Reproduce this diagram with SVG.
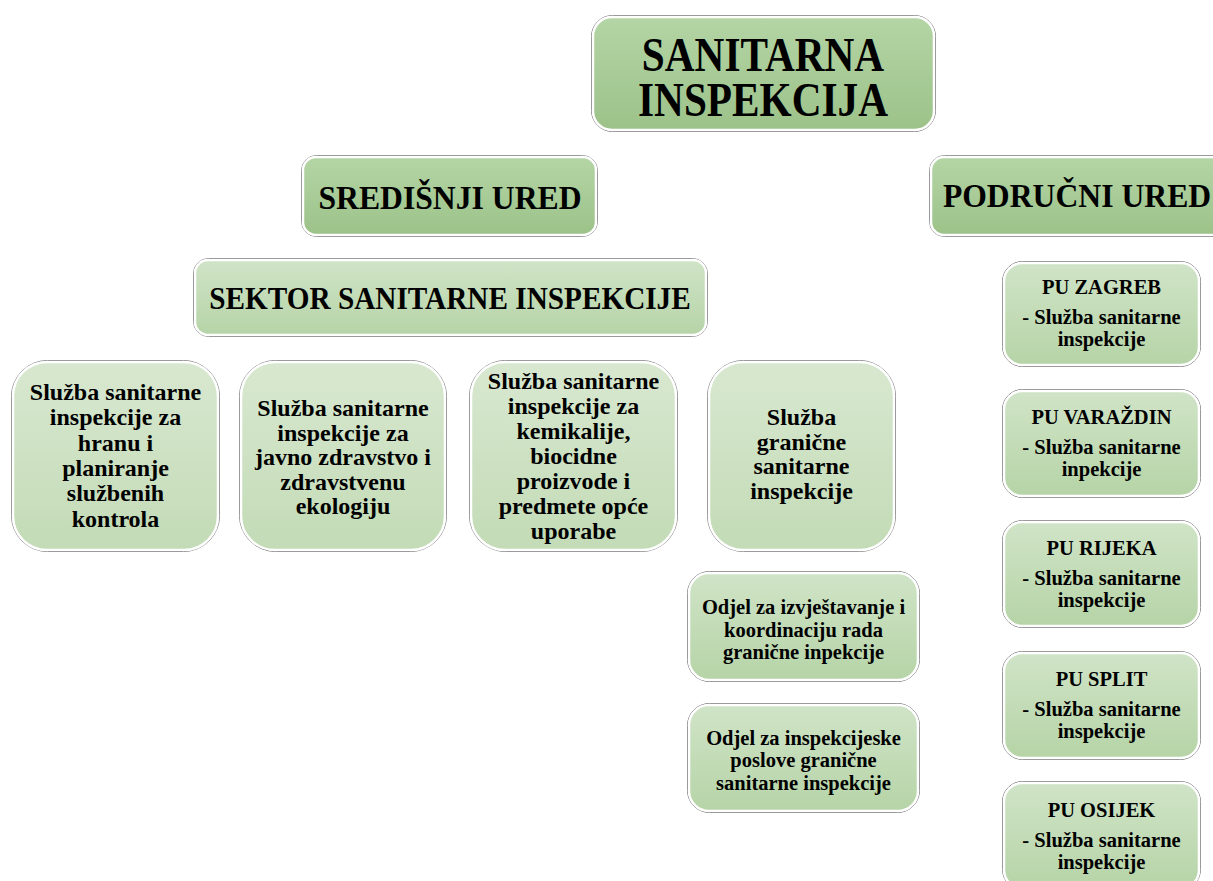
<svg xmlns="http://www.w3.org/2000/svg" width="1213" height="881" viewBox="0 0 1213 881">
<defs>
<linearGradient id="gDark" x1="0" y1="0" x2="0" y2="1">
<stop offset="0" stop-color="#b4d5a5"/><stop offset="1" stop-color="#9cc289"/>
</linearGradient>
<linearGradient id="gMid" x1="0" y1="0" x2="0" y2="1">
<stop offset="0" stop-color="#d0e4c7"/><stop offset="1" stop-color="#b6d4a7"/>
</linearGradient>
<linearGradient id="gLight" x1="0" y1="0" x2="0" y2="1">
<stop offset="0" stop-color="#d8e8d0"/><stop offset="1" stop-color="#c3dbb6"/>
</linearGradient>
</defs>
<style>
.in{stroke:#ffffff;stroke-width:2.5}
.out{fill:none;stroke:#7a7a7a;stroke-width:1}
text{font-family:"Liberation Serif","Times New Roman",serif;font-weight:bold;fill:#000;text-anchor:middle}
.t1{font-size:48px}
.t2{font-size:33px}
.t3{font-size:32.5px}
.t4{font-size:24px}
.t5{font-size:20.5px}
.t6{font-size:20.5px}
</style>
<rect width="1213" height="881" fill="#ffffff"/>

<g id="connectors"></g>

<g id="n-root">
<rect class="out" x="591.5" y="15.5" width="344" height="116" rx="21"/>
<rect class="in" x="593" y="17" width="341" height="113" rx="19" fill="url(#gDark)"/>
<g transform="translate(763,0) scale(0.86,1)">
<text class="t1" x="0" y="71">SANITARNA</text>
<text class="t1" x="0" y="116">INSPEKCIJA</text>
</g>
</g>

<g id="n-sredisnji">
<rect class="out" x="301.5" y="155.5" width="296" height="81" rx="15"/>
<rect class="in" x="303" y="157" width="293" height="78" rx="13" fill="url(#gDark)"/>
<g transform="translate(450,0) scale(0.96,1)">
<text class="t2" x="0" y="209">SREDIŠNJI URED</text>
</g>
</g>

<g id="n-podrucni">
<rect class="out" x="929.5" y="155.5" width="310" height="81" rx="15"/>
<rect class="in" x="931" y="157" width="307" height="78" rx="13" fill="url(#gDark)"/>
<g transform="translate(1077,0) scale(0.96,1)">
<text class="t2" x="0" y="207">PODRUČNI URED</text>
</g>
</g>

<g id="n-sektor">
<rect class="out" x="193.5" y="258.5" width="514" height="78" rx="15"/>
<rect class="in" x="195" y="260" width="511" height="75" rx="13" fill="url(#gMid)"/>
<g transform="translate(450,0) scale(0.9,1)">
<text class="t3" x="0" y="309">SEKTOR SANITARNE INSPEKCIJE</text>
</g>
</g>

<g id="n-hrana">
<rect class="out" x="11.5" y="360.5" width="208" height="191" rx="36"/>
<rect class="in" x="13" y="362" width="205" height="188" rx="34" fill="url(#gLight)"/>
<text class="t4" x="115.5" y="400">Služba sanitarne</text>
<text class="t4" x="115.5" y="425.3">inspekcije za</text>
<text class="t4" x="115.5" y="450.6">hranu i</text>
<text class="t4" x="115.5" y="475.9">planiranje</text>
<text class="t4" x="115.5" y="501.2">službenih</text>
<text class="t4" x="115.5" y="526.5">kontrola</text>
</g>

<g id="n-javno">
<rect class="out" x="239.5" y="360.5" width="207" height="191" rx="36"/>
<rect class="in" x="241" y="362" width="204" height="188" rx="34" fill="url(#gLight)"/>
<text class="t4" x="343" y="416">Služba sanitarne</text>
<text class="t4" x="343" y="440.5">inspekcije za</text>
<text class="t4" x="343" y="465">javno zdravstvo i</text>
<text class="t4" x="343" y="489.5">zdravstvenu</text>
<text class="t4" x="343" y="514">ekologiju</text>
</g>

<g id="n-kemikalije">
<rect class="out" x="469.5" y="360.5" width="208" height="191" rx="36"/>
<rect class="in" x="471" y="362" width="205" height="188" rx="34" fill="url(#gLight)"/>
<text class="t4" x="573.5" y="389">Služba sanitarne</text>
<text class="t4" x="573.5" y="414">inspekcije za</text>
<text class="t4" x="573.5" y="439">kemikalije,</text>
<text class="t4" x="573.5" y="464">biocidne</text>
<text class="t4" x="573.5" y="489">proizvode i</text>
<text class="t4" x="573.5" y="514">predmete opće</text>
<text class="t4" x="573.5" y="539">uporabe</text>
</g>

<g id="n-granicna">
<rect class="out" x="707.5" y="360.5" width="188" height="191" rx="36"/>
<rect class="in" x="709" y="362" width="185" height="188" rx="34" fill="url(#gLight)"/>
<text class="t4" x="801.5" y="425">Služba</text>
<text class="t4" x="801.5" y="450">granične</text>
<text class="t4" x="801.5" y="474">sanitarne</text>
<text class="t4" x="801.5" y="499">inspekcije</text>
</g>

<g id="n-odjel1">
<rect class="out" x="687.5" y="571.5" width="232" height="110" rx="22"/>
<rect class="in" x="689" y="573" width="229" height="107" rx="20" fill="url(#gMid)"/>
<text class="t5" x="803.5" y="614">Odjel za izvještavanje i</text>
<text class="t5" x="803.5" y="637">koordinaciju rada</text>
<text class="t5" x="803.5" y="659">granične inpekcije</text>
</g>

<g id="n-odjel2">
<rect class="out" x="687.5" y="703.5" width="232" height="109" rx="22"/>
<rect class="in" x="689" y="705" width="229" height="106" rx="20" fill="url(#gMid)"/>
<text class="t5" x="803.5" y="745">Odjel za inspekcijeske</text>
<text class="t5" x="803.5" y="767">poslove granične</text>
<text class="t5" x="803.5" y="790">sanitarne inspekcije</text>
</g>

<g id="n-pu-zagreb">
<rect class="out" x="1002.5" y="261.5" width="198" height="105" rx="20"/>
<rect class="in" x="1004" y="263" width="195" height="102" rx="18" fill="url(#gMid)"/>
<text class="t6" x="1101.5" y="294">PU ZAGREB</text>
<text class="t6" x="1101.5" y="324">- Služba sanitarne</text>
<text class="t6" x="1101.5" y="346">inspekcije</text>
</g>

<g id="n-pu-varazdin">
<rect class="out" x="1002.5" y="389.5" width="198" height="108" rx="20"/>
<rect class="in" x="1004" y="391" width="195" height="105" rx="18" fill="url(#gMid)"/>
<text class="t6" x="1101.5" y="424">PU VARAŽDIN</text>
<text class="t6" x="1101.5" y="454">- Služba sanitarne</text>
<text class="t6" x="1101.5" y="476">inpekcije</text>
</g>

<g id="n-pu-rijeka">
<rect class="out" x="1002.5" y="520.5" width="198" height="107" rx="20"/>
<rect class="in" x="1004" y="522" width="195" height="104" rx="18" fill="url(#gMid)"/>
<text class="t6" x="1101.5" y="555">PU RIJEKA</text>
<text class="t6" x="1101.5" y="585">- Služba sanitarne</text>
<text class="t6" x="1101.5" y="607">inspekcije</text>
</g>

<g id="n-pu-split">
<rect class="out" x="1002.5" y="651.5" width="198" height="108" rx="20"/>
<rect class="in" x="1004" y="653" width="195" height="105" rx="18" fill="url(#gMid)"/>
<text class="t6" x="1101.5" y="686">PU SPLIT</text>
<text class="t6" x="1101.5" y="716">- Služba sanitarne</text>
<text class="t6" x="1101.5" y="738">inspekcije</text>
</g>

<g id="n-pu-osijek">
<rect class="out" x="1002.5" y="781.5" width="198" height="108" rx="20"/>
<rect class="in" x="1004" y="783" width="195" height="105" rx="18" fill="url(#gMid)"/>
<text class="t6" x="1101.5" y="817">PU OSIJEK</text>
<text class="t6" x="1101.5" y="847">- Služba sanitarne</text>
<text class="t6" x="1101.5" y="869">inspekcije</text>
</g>
</svg>
